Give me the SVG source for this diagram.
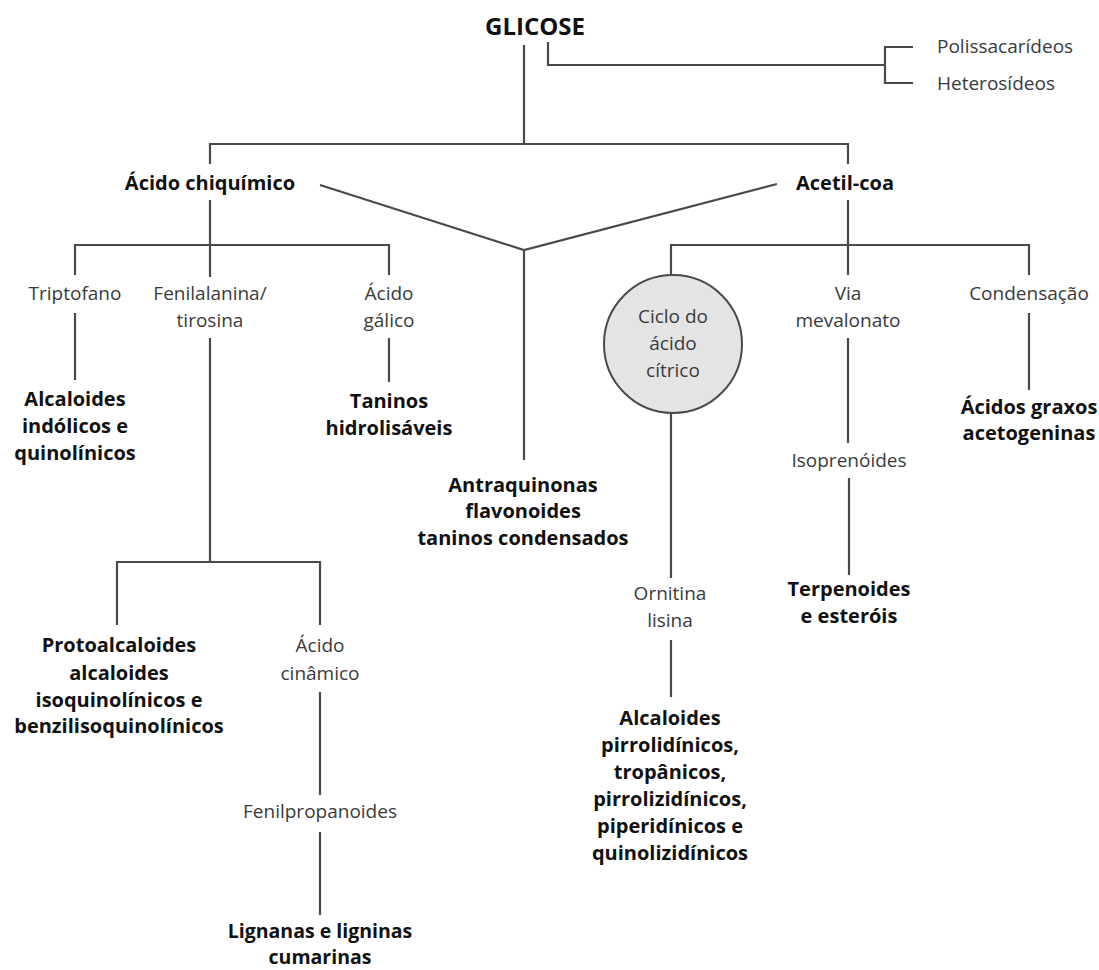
<svg xmlns="http://www.w3.org/2000/svg" width="1099" height="970" viewBox="0 0 1099 970">
<style>
.ln{stroke:#4a4a4a;stroke-width:2.2;fill:none}
.r{font-family:"Open Sans","Liberation Sans",sans-serif;font-size:19px;fill:#3a3a3a;text-anchor:middle}
.b{font-family:"Open Sans","Liberation Sans",sans-serif;font-size:20px;font-weight:bold;fill:#111;text-anchor:middle}
.st{text-anchor:start}
</style>
<rect width="1099" height="970" fill="#fff"/>
<g id="connectors">
<path class="ln" d="M524,45V144M548,42V65H885M913,47H885V83H913"/>
<path class="ln" d="M210,164V144H848V164"/>
<path class="ln" d="M210,200V277M75,275V245H389V275"/>
<path class="ln" d="M75,313V380M210,338V562M389,338V382"/>
<path class="ln" d="M320,185L524,250L777,184M524,250V460"/>
<path class="ln" d="M848,200V275M671,275V245H1029V275"/>
<path class="ln" d="M848,338V443M849,478V575M1029,313V390"/>
<path class="ln" d="M671,413V578M671,640V697"/>
<path class="ln" d="M117,625V562H320V625M320,692V795M320,832V915"/>
</g>
<g id="glicose"><text class="b" x="535" y="35" style="font-size:24px">GLICOSE</text></g>
<g id="polissacarideos"><text class="r st" x="937" y="53">Polissacarídeos</text></g>
<g id="heterosideos"><text class="r st" x="937" y="90">Heterosídeos</text></g>
<g id="acido-chiquimico"><text class="b" x="210" y="190">Ácido chiquímico</text></g>
<g id="acetil-coa"><text class="b" x="845" y="190">Acetil-coa</text></g>
<g id="triptofano"><text class="r" x="75" y="300">Triptofano</text></g>
<g id="fenilalanina"><text class="r" x="210" y="300">Fenilalanina/</text><text class="r" x="210" y="327">tirosina</text></g>
<g id="acido-galico"><text class="r" x="389" y="300">Ácido</text><text class="r" x="389" y="327">gálico</text></g>
<g id="alcaloides-indolicos"><text class="b" x="75" y="406">Alcaloides</text><text class="b" x="75" y="433">indólicos e</text><text class="b" x="75" y="460">quinolínicos</text></g>
<g id="taninos-hidrolisaveis"><text class="b" x="389" y="408">Taninos</text><text class="b" x="389" y="435">hidrolisáveis</text></g>
<g id="antraquinonas"><text class="b" x="523" y="492">Antraquinonas</text><text class="b" x="523" y="518">flavonoides</text><text class="b" x="523" y="545">taninos condensados</text></g>
<g id="ciclo-acido-citrico"><circle cx="673" cy="344" r="69" fill="#e4e4e4" stroke="#4a4a4a" stroke-width="2"/><text class="r" x="673" y="323">Ciclo do</text><text class="r" x="673" y="350">ácido</text><text class="r" x="673" y="377">cítrico</text></g>
<g id="via-mevalonato"><text class="r" x="848" y="300">Via</text><text class="r" x="848" y="327">mevalonato</text></g>
<g id="condensacao"><text class="r" x="1029" y="300">Condensação</text></g>
<g id="acidos-graxos"><text class="b" x="1029" y="414">Ácidos graxos</text><text class="b" x="1029" y="440">acetogeninas</text></g>
<g id="isoprenoides"><text class="r" x="849" y="467">Isoprenóides</text></g>
<g id="terpenoides"><text class="b" x="849" y="596">Terpenoides</text><text class="b" x="849" y="623">e esteróis</text></g>
<g id="protoalcaloides"><text class="b" x="119" y="652">Protoalcaloides</text><text class="b" x="119" y="680">alcaloides</text><text class="b" x="119" y="707">isoquinolínicos e</text><text class="b" x="119" y="733">benzilisoquinolínicos</text></g>
<g id="acido-cinamico"><text class="r" x="320" y="652">Ácido</text><text class="r" x="320" y="680">cinâmico</text></g>
<g id="fenilpropanoides"><text class="r" x="320" y="818">Fenilpropanoides</text></g>
<g id="lignanas"><text class="b" x="320" y="938" style="font-size:19.5px">Lignanas e ligninas</text><text class="b" x="320" y="964" style="font-size:19.5px">cumarinas</text></g>
<g id="ornitina-lisina"><text class="r" x="670" y="600">Ornitina</text><text class="r" x="670" y="627">lisina</text></g>
<g id="alcaloides-pirrolidinicos"><text class="b" x="670" y="725">Alcaloides</text><text class="b" x="670" y="752">pirrolidínicos,</text><text class="b" x="670" y="779">tropânicos,</text><text class="b" x="670" y="806">pirrolizidínicos,</text><text class="b" x="670" y="833">piperidínicos e</text><text class="b" x="670" y="860">quinolizidínicos</text></g>
</svg>
